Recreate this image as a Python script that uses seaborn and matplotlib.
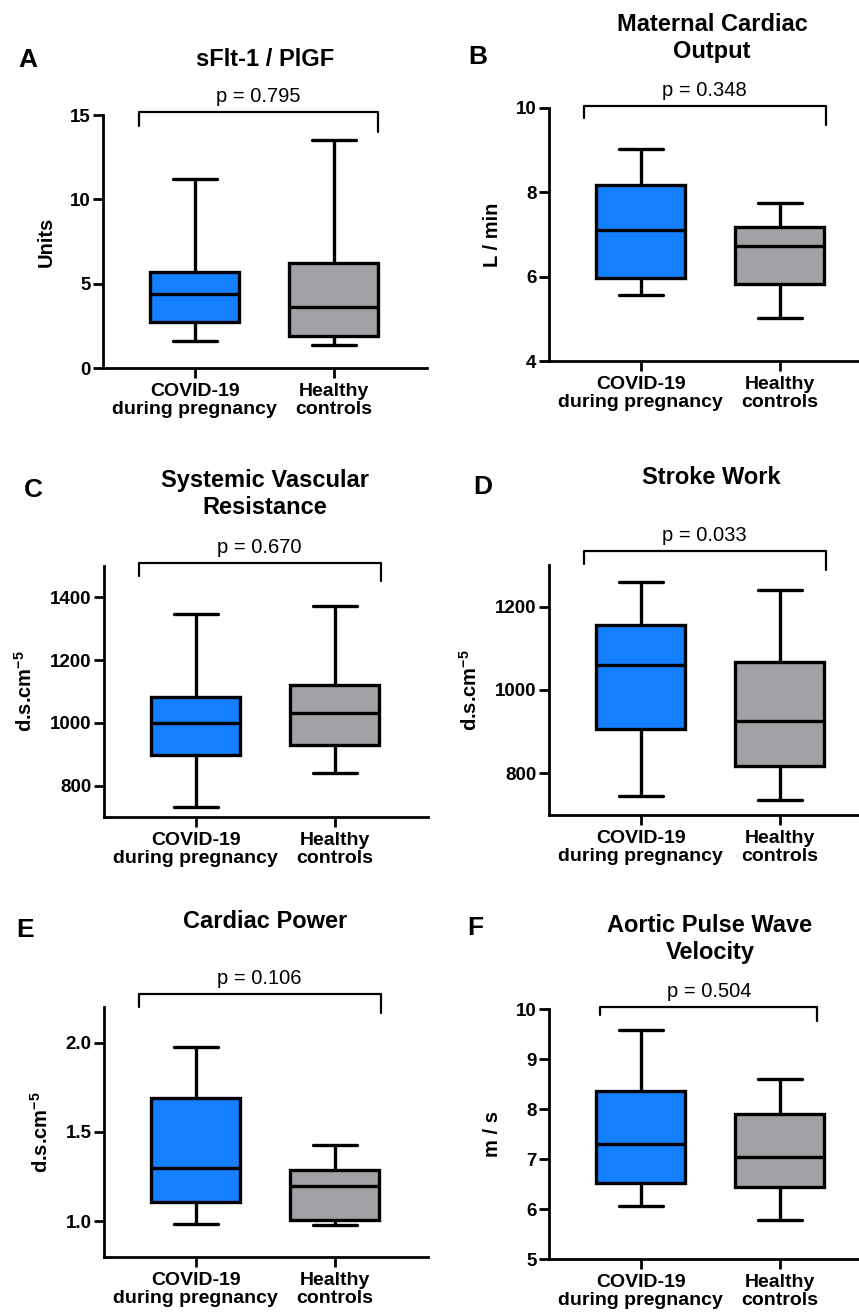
import pandas as pd
import matplotlib.pyplot as plt
import matplotlib.transforms as mtransforms
import seaborn as sns

W, H = 859, 1315

groups = ["COVID-19\nduring pregnancy", "Healthy\ncontrols"]
palette = ["#1580ff", "#a2a2a6"]

# five-number summaries: min, Q1, median, Q3, max
sflt_covid = [1.6, 2.7, 4.38, 5.71, 11.2]
sflt_healthy = [1.36, 1.9, 3.63, 6.24, 13.5]
co_covid = [5.56, 5.97, 7.11, 8.17, 9.03]
co_healthy = [5.02, 5.83, 6.72, 7.17, 7.75]
svr_covid = [731, 897, 999, 1083, 1347]
svr_healthy = [840, 929, 1033, 1121, 1371]
sw_covid = [746, 906, 1061, 1156, 1260]
sw_healthy = [736, 817, 926, 1067, 1240]
cp_covid = [0.987, 1.107, 1.30, 1.69, 1.978]
cp_healthy = [0.978, 1.01, 1.20, 1.29, 1.43]
pwv_covid = [6.07, 6.53, 7.3, 8.37, 9.59]
pwv_healthy = [5.79, 6.45, 7.05, 7.9, 8.6]

p_values = ["0.795", "0.348", "0.670", "0.033", "0.106", "0.504"]
titles = ["sFlt-1 / PlGF", "Maternal Cardiac\nOutput", "Systemic Vascular\nResistance",
          "Stroke Work", "Cardiac Power", "Aortic Pulse Wave\nVelocity"]
letters = ["A", "B", "C", "D", "E", "F"]
ylabels = ["Units", "L / min", "d.s.cm$^{-5}$", "d.s.cm$^{-5}$", "d.s.cm$^{-5}$", "m / s"]
yticks = [[0, 5, 10, 15], [4, 6, 8, 10], [800, 1000, 1200, 1400],
          [800, 1000, 1200], [1.0, 1.5, 2.0], [5, 6, 7, 8, 9, 10]]
ytick_labels = [None, None, None, None, ["1.0", "1.5", "2.0"], None]
ylims = [(0, 15), (4, 10), (700, 1500), (700, 1300), (0.8, 2.2), (5, 10)]
series = [(sflt_covid, sflt_healthy), (co_covid, co_healthy), (svr_covid, svr_healthy),
          (sw_covid, sw_healthy), (cp_covid, cp_healthy), (pwv_covid, pwv_healthy)]

# layout (pixels): axes box left, top, right, bottom
boxes_px = [(103, 115, 427, 368), (549, 108, 873, 361), (104, 566, 428, 817),
            (549, 565, 873, 815), (104, 1007, 428, 1257), (549, 1009, 873, 1259)]
letter_px = [(28, 60), (478, 57), (33, 490), (483, 487), (25, 930), (475, 928)]
title_px = [(265, 60), (712, 38), (265, 494), (711, 478), (265, 922), (710, 939)]
# bracket: x0, x1 (data), top, left end, right end (axes fraction)
brackets = [(-0.40, 1.32, 1.012, 0.957, 0.933), (-0.41, 1.33, 1.008, 0.960, 0.933),
            (-0.41, 1.33, 1.012, 0.960, 0.940), (-0.41, 1.33, 1.056, 1.004, 0.980),
            (-0.41, 1.33, 1.052, 1.000, 0.976), (-0.29, 1.27, 1.008, 0.976, 0.952)]

sns.set_style("ticks")
plt.rcParams["font.family"] = ["Liberation Sans", "DejaVu Sans"]
plt.rcParams["font.weight"] = "bold"
plt.rcParams["axes.labelweight"] = "bold"
plt.rcParams["mathtext.default"] = "regular"
plt.rcParams["axes.linewidth"] = 2.0
for key in ["text.color", "axes.labelcolor", "xtick.color", "ytick.color", "axes.edgecolor"]:
    plt.rcParams[key] = "black"

fig = plt.figure(figsize=(W / 100, H / 100), dpi=100)

for i in range(6):
    l, t, r, b = boxes_px[i]
    ax = fig.add_axes([l / W, 1 - b / H, (r - l) / W, (b - t) / H])
    covid, healthy = series[i]
    df = pd.DataFrame({"group": [groups[0]] * len(covid) + [groups[1]] * len(healthy),
                       "value": covid + healthy})
    sns.boxplot(data=df, x="group", y="value", hue="group", palette=palette,
                saturation=1, whis=(0, 100), width=0.64, linewidth=2.4,
                linecolor="black", showfliers=False, legend=False, ax=ax)
    ax.set_xlim(-0.66, 1.67)
    ax.set_ylim(*ylims[i])
    if ytick_labels[i]:
        ax.set_yticks(yticks[i], ytick_labels[i])
    else:
        ax.set_yticks(yticks[i])
    ax.set_xticks([0, 1], groups, linespacing=1.05)
    ax.set_xlabel("")
    ax.set_ylabel(ylabels[i], fontsize=14.5, labelpad=10)
    ax.tick_params(axis="both", length=7, width=2, labelsize=13.5, pad=2)
    ax.tick_params(axis="x", labelsize=14, pad=4)
    sns.despine(ax=ax)

    # significance bracket
    x0, x1, yt, yl, yr = brackets[i]
    trans = mtransforms.blended_transform_factory(ax.transData, ax.transAxes)
    ax.plot([x0, x0, x1, x1], [yl, yt, yt, yr], transform=trans, clip_on=False,
            color="black", lw=1.6)
    ax.text((x0 + x1) / 2, yt + 0.04, f"p = {p_values[i]}", transform=trans,
            ha="center", va="baseline", fontsize=14.5, fontweight="normal")

    lx, ly = letter_px[i]
    fig.text(lx / W, 1 - ly / H, letters[i], ha="center", va="center",
             fontsize=19, fontweight="bold")
    tx, ty = title_px[i]
    fig.text(tx / W, 1 - ty / H, titles[i], ha="center", va="center",
             fontsize=17, fontweight="bold", linespacing=1.22)

plt.savefig("out.png", dpi=100)
